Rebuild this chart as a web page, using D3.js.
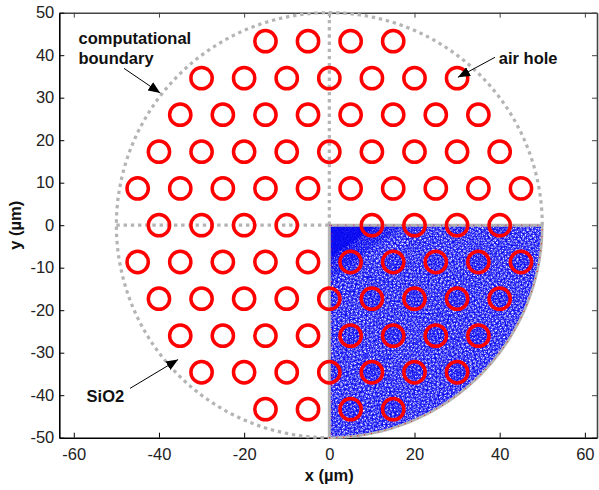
<!DOCTYPE html>
<html>
<head>
<meta charset="utf-8">
<script src="https://cdn.jsdelivr.net/npm/d3@7"></script>
<style>
  body { margin: 0; background: #fff; }
  text { font-family: "Liberation Sans", Arial, sans-serif; fill: #222; }
  .tick text { font-size: 16.5px; }
  .note { font-size: 16.5px; font-weight: bold; fill: #111; }
  .titre { font-size: 16.5px; font-weight: bold; fill: #111; }
</style>
</head>
<body>
<div id="graph"></div>
<script>
// Air holes, one list of x per row of the lattice (um)
let rangees_y = [43.3, 34.6, 26, 17.3, 8.66, 0, -8.66, -17.3, -26, -34.6, -43.3];
let rangees_x = [
  [-15, -5, 5, 15],
  [-30, -20, -10, 0, 10, 20, 30],
  [-35, -25, -15, -5, 5, 15, 25, 35],
  [-40, -30, -20, -10, 0, 10, 20, 30, 40],
  [-45, -35, -25, -15, -5, 5, 15, 25, 35, 45],
  [-40, -30, -20, -10, 10, 20, 30, 40],
  [-45, -35, -25, -15, -5, 5, 15, 25, 35, 45],
  [-40, -30, -20, -10, 0, 10, 20, 30, 40],
  [-35, -25, -15, -5, 5, 15, 25, 35],
  [-30, -20, -10, 0, 10, 20, 30],
  [-15, -5, 5, 15]
];
let rayon_trou = 2.5;
let rayon_domaine = 50;

let ticks_x = [-60, -40, -20, 0, 20, 40, 60];
let ticks_y = [-50, -40, -30, -20, -10, 0, 10, 20, 30, 40, 50];

// Annotations, in um: [x start, y start, x tip, y tip]
let fleche_domaine = [-48.2, 36.9, -39.7, 31.1];
let fleche_trou = [38.9, 39.5, 30.2, 34.8];
let fleche_sio2 = [-46.8, -38.4, -35.5, -31.6];

// Taille du graphique
let largeurTotale = 599, hauteurTotale = 490;

let echelleX = d3.scaleLinear().domain([-63.4, 62.85]).range([59.3, 597]);
let echelleY = d3.scaleLinear().domain([-50, 50]).range([437.7, 12.7]);

let svg = d3.select("#graph").append("svg")
    .attr("width", largeurTotale)
    .attr("height", hauteurTotale)
    .style("display", "block");

// Axes, ticks go inward on the four sides
let bas = echelleY.range()[0], haut = echelleY.range()[1];
let gauche = echelleX.range()[0], droite = echelleX.range()[1];

function styleAxe(g, couleur) {
  g.selectAll("path, line").attr("stroke", couleur);
  g.select(".domain").attr("stroke-width", 1.6);
}

// plain hyphen on the negative labels, like the original
let formatTick = d => String(d);

svg.append("g").attr("transform", "translate(0," + haut + ")")
    .call(d3.axisTop(echelleX).tickValues(ticks_x).tickSizeInner(-5).tickSizeOuter(0).tickFormat(""))
    .call(styleAxe, "#444");
svg.append("g").attr("transform", "translate(" + droite + ",0)")
    .call(d3.axisRight(echelleY).tickValues(ticks_y).tickSizeInner(-5).tickSizeOuter(0).tickFormat(""))
    .call(styleAxe, "#444");
svg.append("g").attr("transform", "translate(0," + bas + ")")
    .call(d3.axisBottom(echelleX).tickValues(ticks_x).tickFormat(formatTick).tickSizeInner(-5).tickSizeOuter(0).tickPadding(11))
    .call(styleAxe, "#000")
    .selectAll("text").attr("dy", "0.71em");
svg.append("g").attr("transform", "translate(" + gauche + ",0)")
    .call(d3.axisLeft(echelleY).tickValues(ticks_y).tickFormat(formatTick).tickSizeInner(-5).tickSizeOuter(0).tickPadding(5))
    .call(styleAxe, "#000");

// FEM mesh of the lower right quarter. Schematic: the nodes are not read from
// the picture, three sunflower patterns with different centres are laid over
// each other so the triangles come out uneven, finer towards the corner
let pas_angle = Math.PI * (3 - Math.sqrt(5));
let noeuds = [];

function tournesol(cx, cy, rmax, aire, garde) {
  let n = Math.floor(Math.PI * rmax * rmax / aire);
  for (let k = 0; k < n; k++) {
    let r = Math.sqrt(k * aire / Math.PI), a = k * pas_angle;
    let px = cx + r * Math.cos(a), py = cy + r * Math.sin(a);
    if (px > 0 && py < 0 && Math.hypot(px, py) < rayon_domaine && garde(px, py)) noeuds.push([px, py]);
  }
}

tournesol(0, 0, rayon_domaine, 0.85, () => true);
tournesol(37, -61, 100, 0.85, () => true);
tournesol(-23, -9, 90, 1.05, () => true);
tournesol(3, -2, 24, 0.3, (px, py) => px / 17 - py / 13 < 1);
tournesol(0, 0, 14, 0.09, (px, py) => px / 11 - py / 8 < 1);
rangees_y.forEach(function(y, i) {
  rangees_x[i].forEach(function(x) {
    tournesol(x, y, rayon_trou, 0.7, () => true);
  });
});
// nodes along the edges of the quarter
d3.range(0, 91, 1).forEach(function(deg) {
  let a = deg * Math.PI / 180;
  noeuds.push([rayon_domaine * Math.cos(a), -rayon_domaine * Math.sin(a)]);
});
d3.range(0, 50, 1).forEach(function(v) {
  noeuds.push([v, 0]);
  noeuds.push([0, -v]);
});

let maillage = d3.Delaunay.from(noeuds, d => echelleX(d[0]), d => echelleY(d[1]));
svg.append("path")
    .attr("d", maillage.render())
    .attr("fill", "none")
    .attr("stroke", "#0000f0")
    .attr("stroke-width", 0.75);

// Computational boundary
let ligne = d3.line().x(d => echelleX(d[0])).y(d => echelleY(d[1]));
let angles_haut = d3.range(0, 271, 1).map(d => d * Math.PI / 180);
let angles_bas = d3.range(270, 361, 1).map(d => d * Math.PI / 180);
let arc_pts = a => [rayon_domaine * Math.cos(a), rayon_domaine * Math.sin(a)];

function trait(points, couleur, largeur, tirets) {
  svg.append("path")
      .attr("d", ligne(points))
      .attr("fill", "none")
      .attr("stroke", couleur)
      .attr("stroke-width", largeur)
      .attr("stroke-dasharray", tirets);
}

let dotted = "3.4 3.8";
trait(angles_haut.map(arc_pts), "#b4b4b4", 3.2, dotted);
trait([[-rayon_domaine, 0], [0, 0]], "#b4b4b4", 3.2, dotted);
trait([[0, rayon_domaine], [0, 0]], "#b4b4b4", 3.2, dotted);
trait(angles_bas.map(arc_pts), "#b4b4b4", 2.6, null);
trait([[0, 0], [rayon_domaine, 0]], "#b4b4b4", 3, null);
trait([[0, 0], [0, -rayon_domaine]], "#b4b4b4", 3, null);
// red ticks of the mesh edge showing through
trait(angles_bas.map(arc_pts), "#ff0000", 1, "1 6");
trait([[0, 0], [rayon_domaine, 0]], "#c00060", 1, "1 7");
trait([[0.5, 0], [0.5, -rayon_domaine]], "#c00060", 1, "1 7");

// Air holes
let trous = [];
rangees_y.forEach(function(y, i) {
  rangees_x[i].forEach(function(x) { trous.push({x: x, y: y}); });
});
svg.selectAll(".trou")
    .data(trous)
    .enter()
    .append("circle")
    .attr("class", "trou")
    .attr("cx", d => echelleX(d.x))
    .attr("cy", d => echelleY(d.y))
    .attr("r", echelleX(rayon_trou) - echelleX(0))
    .attr("fill", "none")
    .attr("stroke", "#ff0000")
    .attr("stroke-width", 3.5);

// Arrows
svg.append("defs").append("marker")
    .attr("id", "pointe")
    .attr("markerUnits", "userSpaceOnUse")
    .attr("viewBox", "0 0 12 10")
    .attr("refX", 12).attr("refY", 5)
    .attr("markerWidth", 12).attr("markerHeight", 10)
    .attr("orient", "auto")
  .append("path")
    .attr("d", "M0,0L12,5L0,10Z")
    .attr("fill", "#000");

[fleche_domaine, fleche_trou, fleche_sio2].forEach(function(f) {
  svg.append("line")
      .attr("x1", echelleX(f[0])).attr("y1", echelleY(f[1]))
      .attr("x2", echelleX(f[2])).attr("y2", echelleY(f[3]))
      .attr("stroke", "#000")
      .attr("stroke-width", 1)
      .attr("marker-end", "url(#pointe)");
});

// Labels
function note(x, y, texte) {
  svg.append("text").attr("class", "note")
      .attr("x", echelleX(x)).attr("y", echelleY(y)).text(texte);
}
note(-58.9, 42.6, "computational");
note(-58.9, 37.9, "boundary");
note(39.8, 37.9, "air hole");
note(-57, -41.6, "SiO2");

svg.append("text").attr("class", "titre")
    .attr("x", echelleX(0)).attr("y", 481)
    .attr("text-anchor", "middle")
    .text("x (µm)");
svg.append("text").attr("class", "titre")
    .attr("transform", "translate(21," + echelleY(0) + ") rotate(-90)")
    .attr("text-anchor", "middle")
    .text("y (µm)");
</script>
</body>
</html>
